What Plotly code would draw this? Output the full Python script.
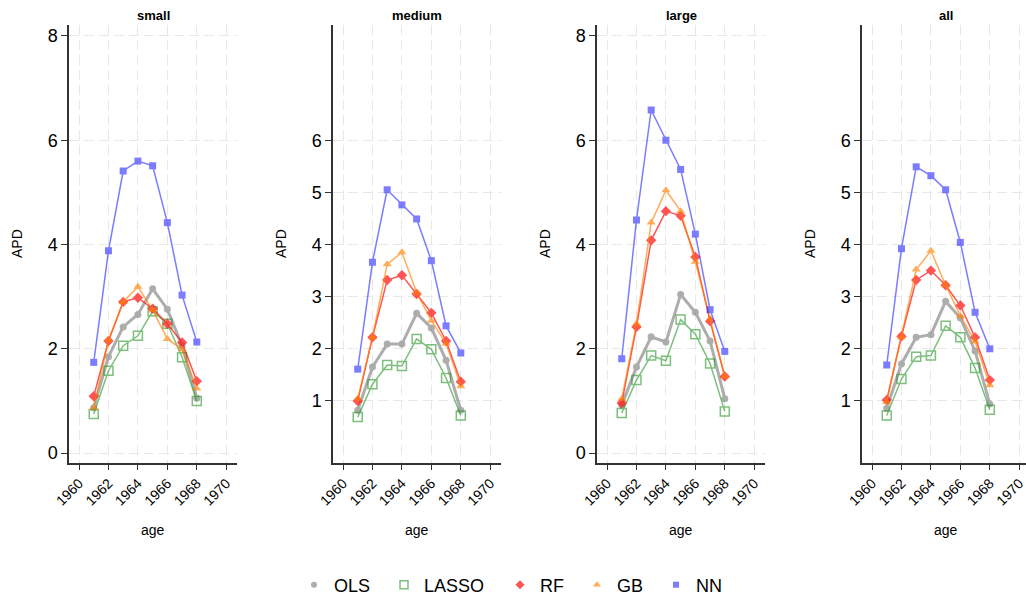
import plotly.graph_objects as go

years = [1961, 1962, 1963, 1964, 1965, 1966, 1967, 1968]
panels = ["small", "medium", "large", "all"]
models = ["OLS", "LASSO", "RF", "GB", "NN"]

# APD values per panel and model
small_OLS   = [0.87, 1.85, 2.42, 2.66, 3.15, 2.76, 2.06, 1.05]
small_LASSO = [0.75, 1.58, 2.06, 2.25, 2.72, 2.48, 1.84, 1.00]
small_RF    = [1.09, 2.15, 2.90, 2.98, 2.77, 2.48, 2.12, 1.38]
small_GB    = [0.87, 2.17, 2.90, 3.19, 2.74, 2.19, 1.99, 1.24]
small_NN    = [1.74, 3.88, 5.41, 5.60, 5.51, 4.42, 3.03, 2.13]

medium_OLS   = [0.82, 1.65, 2.09, 2.09, 2.68, 2.40, 1.78, 0.82]
medium_LASSO = [0.69, 1.32, 1.69, 1.67, 2.19, 1.99, 1.44, 0.72]
medium_RF    = [1.00, 2.22, 3.32, 3.41, 3.05, 2.69, 2.15, 1.37]
medium_GB    = [1.04, 2.22, 3.62, 3.85, 3.08, 2.54, 2.10, 1.28]
medium_NN    = [1.61, 3.66, 5.05, 4.76, 4.49, 3.69, 2.44, 1.92]

large_OLS   = [0.92, 1.65, 2.23, 2.13, 3.04, 2.70, 2.15, 1.04]
large_LASSO = [0.77, 1.40, 1.87, 1.77, 2.56, 2.28, 1.72, 0.80]
large_RF    = [0.96, 2.42, 4.08, 4.64, 4.55, 3.76, 2.53, 1.47]
large_GB    = [1.04, 2.48, 4.42, 5.04, 4.64, 3.67, 2.57, 1.47]
large_NN    = [1.81, 4.47, 6.58, 6.00, 5.44, 4.20, 2.75, 1.95]

all_OLS   = [0.86, 1.71, 2.22, 2.27, 2.91, 2.59, 1.96, 0.94]
all_LASSO = [0.72, 1.42, 1.85, 1.87, 2.44, 2.22, 1.63, 0.83]
all_RF    = [1.02, 2.24, 3.32, 3.50, 3.22, 2.83, 2.22, 1.40]
all_GB    = [0.98, 2.22, 3.52, 3.88, 3.22, 2.63, 2.14, 1.30]
all_NN    = [1.69, 3.92, 5.49, 5.32, 5.05, 4.04, 2.70, 2.00]

data = {
    "small":  [small_OLS, small_LASSO, small_RF, small_GB, small_NN],
    "medium": [medium_OLS, medium_LASSO, medium_RF, medium_GB, medium_NN],
    "large":  [large_OLS, large_LASSO, large_RF, large_GB, large_NN],
    "all":    [all_OLS, all_LASSO, all_RF, all_GB, all_NN],
}

x_ticks = [1960, 1962, 1964, 1966, 1968, 1970]
y_ticks_a = [0, 2, 4, 6, 8]
y_ticks_b = [1, 2, 3, 4, 5, 6]
panel_yticks = [y_ticks_a, y_ticks_b, y_ticks_a, y_ticks_b]

styles = {
    "OLS":   dict(color="rgb(120,120,120)", symbol="circle", size=7, lw=3.0, op=0.6),
    "LASSO": dict(color="rgb(40,150,40)", symbol="square-open", size=9, lw=1.5, op=0.6),
    "RF":    dict(color="rgb(255,20,20)", symbol="diamond", size=8, lw=1.5, op=0.72),
    "GB":    dict(color="rgb(255,130,0)", symbol="triangle-up", size=8, lw=1.5, op=0.65),
    "NN":    dict(color="rgb(30,30,255)", symbol="square", size=7, lw=1.5, op=0.58),
}

FONT = "Liberation Sans, Arial, sans-serif"
W, H = 1026, 600
left_px = [69, 333, 597, 862]
pw = 168
top_px, bot_px = 25, 463
px_per_year = pw / (1970.73 - 1959.32)

fig = go.Figure()
for i, p in enumerate(panels):
    ax = "" if i == 0 else str(i + 1)
    for m, vals in zip(models, data[p]):
        s = styles[m]
        fig.add_trace(go.Scatter(
            x=years, y=vals, mode="lines+markers", name=m, showlegend=False,
            xaxis="x" + ax, yaxis="y" + ax, opacity=s["op"], cliponaxis=False,
            line=dict(color=s["color"], width=s["lw"]),
            marker=dict(color=s["color"], symbol=s["symbol"], size=s["size"],
                        line=dict(color=s["color"], width=1.5 if "open" in s["symbol"] else 0)),
        ))
    x0 = left_px[i] / W
    x1 = min(left_px[i] + pw, W) / W
    xr_end = 1959.32 + (min(left_px[i] + pw, W) - left_px[i]) / px_per_year
    fig.layout["xaxis" + ax] = dict(
        domain=[x0, x1], range=[1959.32, xr_end], anchor="y" + ax, automargin=False,
        tickvals=x_ticks, ticktext=[str(t) for t in x_ticks], tickangle=-45,
        ticklabeloverflow="allow",
        ticks="outside", ticklen=5, tickcolor="#333", showline=True, linecolor="#333", linewidth=1.5,
        showgrid=True, gridcolor="#e8e8e8", griddash="10px,5px", gridwidth=1.2, zeroline=False,
        tickfont=dict(size=14, color="black", family=FONT),
    )
    fig.layout["yaxis" + ax] = dict(
        domain=[1 - bot_px / H, 1 - top_px / H], range=[-0.19, 8.21], anchor="x" + ax, automargin=False,
        tickvals=panel_yticks[i], ticks="outside", ticklen=6, tickcolor="#333",
        showline=True, linecolor="#333", linewidth=1.5,
        showgrid=True, gridcolor="#e8e8e8", griddash="10px,5px", gridwidth=1.2, zeroline=False,
        tickfont=dict(size=18, color="black", family=FONT),
    )
    cx = (left_px[i] + pw / 2) / W
    fig.add_annotation(text="<b>" + p + "</b>", x=cx, y=1 - 15 / H, xref="paper", yref="paper",
                       xanchor="center", yanchor="middle",
                       showarrow=False, font=dict(size=13, color="black", family=FONT))
    fig.add_annotation(text="age", x=cx, y=1 - 530 / H, xref="paper", yref="paper",
                       xanchor="center", yanchor="middle",
                       showarrow=False, font=dict(size=14, color="black", family=FONT))
    fig.add_annotation(text="APD", x=(left_px[i] - 52) / W, y=1 - 244 / H, xref="paper", yref="paper",
                       xanchor="center", yanchor="middle",
                       showarrow=False, textangle=-90, font=dict(size=14, color="black", family=FONT))

# legend entries (markers only), one legend per entry for exact placement
legend_marker_px = [316, 406, 522, 599, 678]
for k, (m, mx) in enumerate(zip(models, legend_marker_px)):
    s = styles[m]
    lname = "legend" if k == 0 else "legend" + str(k + 1)
    fig.add_trace(go.Scatter(
        x=[None], y=[None], mode="markers", name=m, showlegend=True, legend=lname,
        opacity=s["op"],
        marker=dict(color=s["color"], symbol=s["symbol"], size=s["size"] - 1,
                    line=dict(color=s["color"], width=1.5 if "open" in s["symbol"] else 0)),
    ))
    fig.layout[lname] = dict(
        x=(mx - 22) / W, xanchor="left", y=1 - 585 / H, yanchor="middle",
        orientation="h", bgcolor="rgba(0,0,0,0)", borderwidth=0,
        font=dict(size=18, color="black", family=FONT),
    )

fig.update_layout(
    width=W, height=H, margin=dict(l=0, r=0, t=0, b=0, autoexpand=False),
    paper_bgcolor="white", plot_bgcolor="white",
    font=dict(family=FONT, color="black"),
)

fig.write_html(
    "out.html",
    config={"displayModeBar": False},
    post_script="document.body.style.margin='0';document.body.style.overflow='hidden';",
)
